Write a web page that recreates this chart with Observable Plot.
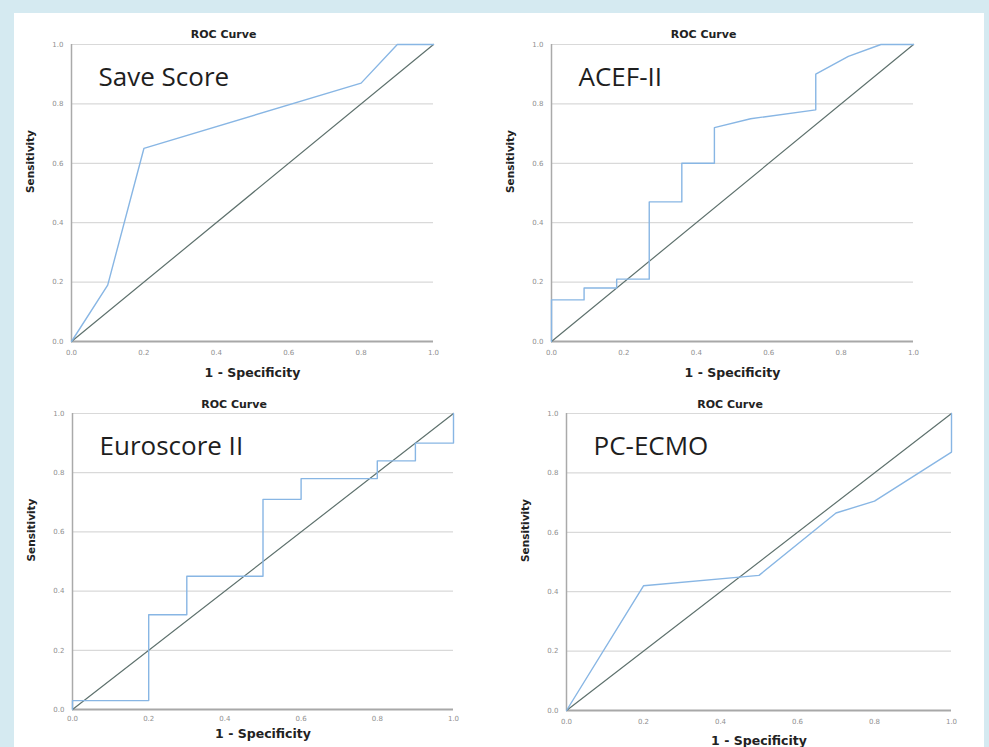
<!DOCTYPE html>
<html>
<head>
<meta charset="utf-8">
<script src="https://cdn.jsdelivr.net/npm/d3@7"></script>
<script src="https://cdn.jsdelivr.net/npm/@observablehq/plot@0.6"></script>
<style>
  html, body { margin: 0; padding: 0; }
  #page { position: relative; width: 989px; height: 747px; background: #d5eaf1; overflow: hidden; }
  #sheet { position: absolute; left: 14px; top: 13px; width: 970px; height: 734px; background: #fff; }
  .panel { position: absolute; }
</style>
</head>
<body>
<div id="page"><div id="sheet"></div></div>
<script>
// Axis ticks and gridlines shared by every panel
const tickValues = [0, 0.2, 0.4, 0.6, 0.8, 1.0];
const gridValues = [0.2, 0.4, 0.6, 0.8, 1.0];
const chanceLine = [0, 1];

// ROC curve vertices: false positive rate (1 - specificity) and sensitivity
const saveFpr = [0, 0.1, 0.2, 0.8, 0.9, 1.0];
const saveTpr = [0, 0.19, 0.65, 0.87, 1.0, 1.0];

const acefFpr = [0, 0, 0.09, 0.09, 0.18, 0.18, 0.27, 0.27, 0.36, 0.36, 0.45, 0.45, 0.55, 0.73, 0.73, 0.82, 0.91, 1.0];
const acefTpr = [0, 0.14, 0.14, 0.18, 0.18, 0.21, 0.21, 0.47, 0.47, 0.60, 0.60, 0.72, 0.75, 0.78, 0.90, 0.96, 1.0, 1.0];

const euroFpr = [0, 0, 0.2, 0.2, 0.3, 0.3, 0.5, 0.5, 0.6, 0.6, 0.8, 0.8, 0.9, 0.9, 1.0, 1.0];
const euroTpr = [0, 0.03, 0.03, 0.32, 0.32, 0.45, 0.45, 0.71, 0.71, 0.78, 0.78, 0.84, 0.84, 0.90, 0.90, 1.0];

const ecmoFpr = [0, 0.2, 0.5, 0.7, 0.8, 1.0, 1.0];
const ecmoTpr = [0, 0.42, 0.455, 0.665, 0.705, 0.87, 1.0];

const panelNames = ["Save Score", "ACEF-II", "Euroscore II", "PC-ECMO"];
const chartTitle = "ROC Curve";
const xLabel = "1 - Specificity";
const yLabel = "Sensitivity";

const labelFont = "DejaVu Sans, sans-serif";

function rocPanel({fpr, tpr, name, left, top, width, height, margin, titleDy, xLabelDy, xTickPad}) {
  const rows = fpr.map((x, i) => ({x, y: tpr[i]}));
  const chart = Plot.plot({
    width, height,
    marginLeft: margin[3], marginTop: margin[0], marginRight: margin[1], marginBottom: margin[2],
    style: {background: "transparent", fontFamily: labelFont, overflow: "visible"},
    x: {domain: [0, 1]},
    y: {domain: [0, 1]},
    marks: [
      Plot.gridY(gridValues, {stroke: "#d9d9d9", strokeOpacity: 1, strokeWidth: 1.2}),
      Plot.axisX(tickValues, {tickFormat: d3.format(".1f"), tickSize: 0, tickPadding: xTickPad, fontSize: 7, fill: "#8f8f8f", label: null}),
      Plot.axisY(tickValues, {tickFormat: d3.format(".1f"), tickSize: 0, tickPadding: 8, fontSize: 7, fill: "#8f8f8f", label: null}),
      Plot.ruleX([0], {stroke: "#aaaaaa", strokeWidth: 1.5}),
      Plot.ruleY([0], {stroke: "#a8a8a8", strokeWidth: 2}),
      Plot.line(chanceLine, {x: d => d, y: d => d, stroke: "#5e716d", strokeWidth: 1.2}),
      Plot.line(rows, {x: "x", y: "y", stroke: "#88b6e4", strokeWidth: 1.4}),
      Plot.text([name], {frameAnchor: "top-left", dx: 27, dy: 33, textAnchor: "start", lineAnchor: "middle",
        fontFamily: "Open Sans, sans-serif", fontSize: 26, fill: "#1e1e1e"}),
      Plot.text([chartTitle], {frameAnchor: "top", dx: -29, dy: titleDy, lineAnchor: "middle",
        fontSize: 11, fontWeight: "bold", fill: "#222"}),
      Plot.text([xLabel], {frameAnchor: "bottom", dy: xLabelDy, lineAnchor: "middle",
        fontSize: 12.5, fontWeight: "bold", fill: "#222"}),
      Plot.text([yLabel], {frameAnchor: "left", dx: -41, rotate: -90, lineAnchor: "middle",
        fontSize: 10.5, fontWeight: "bold", fill: "#222"})
    ]
  });
  chart.classList.add("panel");
  chart.style.left = left + "px";
  chart.style.top = top + "px";
  chart.style.maxWidth = "none";
  document.getElementById("page").appendChild(chart);
}

rocPanel({fpr: saveFpr, tpr: saveTpr, name: panelNames[0], left: 0, top: 0, width: 490, height: 380,
  margin: [44, 57, 39, 71], titleDy: -10, xLabelDy: 31, xTickPad: 9});
rocPanel({fpr: acefFpr, tpr: acefTpr, name: panelNames[1], left: 490, top: 0, width: 499, height: 380,
  margin: [44, 76, 39, 61], titleDy: -10, xLabelDy: 31, xTickPad: 9});
rocPanel({fpr: euroFpr, tpr: euroTpr, name: panelNames[2], left: 0, top: 380, width: 490, height: 367,
  margin: [33, 37, 38, 72], titleDy: -9, xLabelDy: 24, xTickPad: 7});
rocPanel({fpr: ecmoFpr, tpr: ecmoTpr, name: panelNames[3], left: 490, top: 380, width: 499, height: 367,
  margin: [33, 38, 37, 76], titleDy: -9, xLabelDy: 30, xTickPad: 9});
</script>
</body>
</html>
